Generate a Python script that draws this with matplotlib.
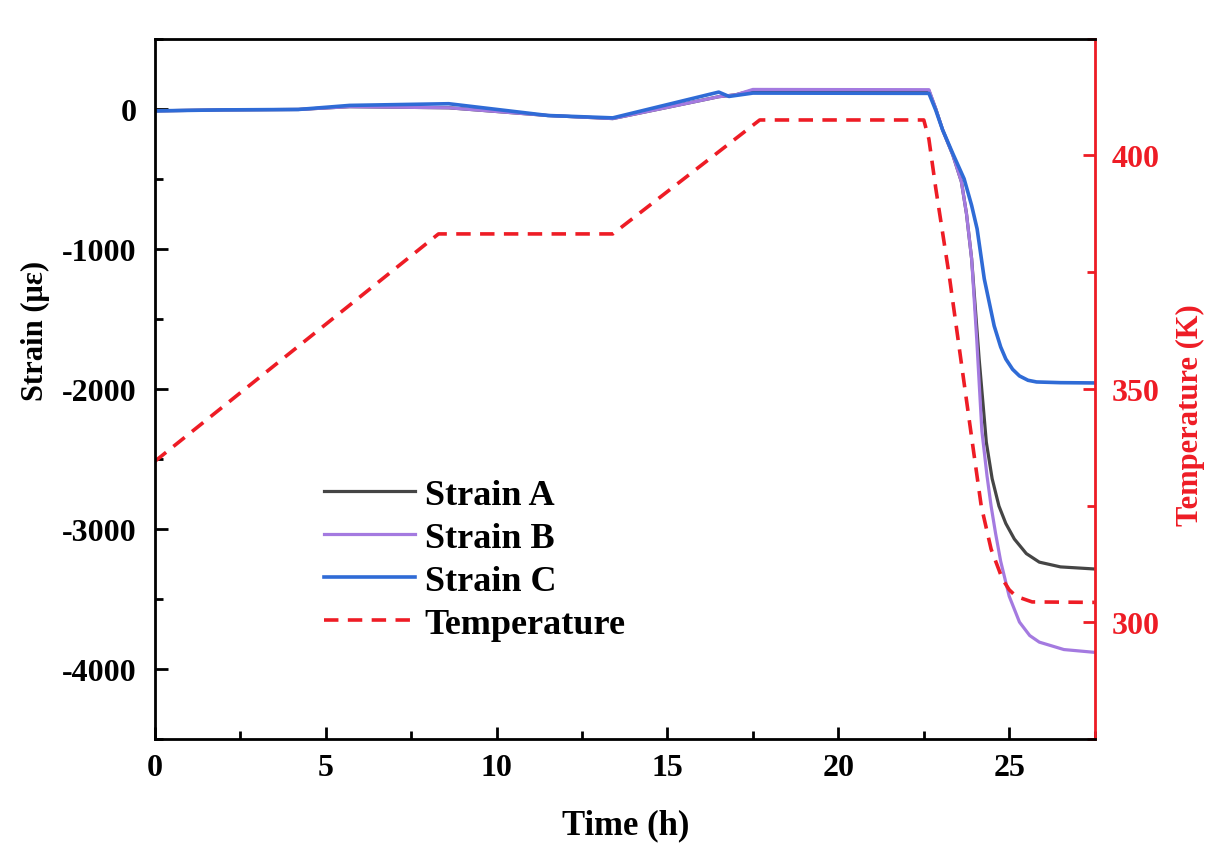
import matplotlib
matplotlib.use('Agg')
import matplotlib.pyplot as plt
from matplotlib.ticker import MultipleLocator

# temperature profile (K)
t_temp = [0, 8.3, 13.4, 17.7, 22.5, 22.65, 22.85, 23.25, 23.95, 24.18, 24.47, 24.8, 25.0, 25.2,
          25.67, 27.5]
temp = [334.5, 383.2, 383.2, 407.6, 407.6, 403.5, 393.0, 374.0, 337.0, 325.0, 315.7, 309.3,
        307.0, 305.6, 304.4, 304.3]

# strain gauges (micro strain)
t_c = [0, 2, 4.2, 5.7, 8.6, 11.5, 13.4, 15, 16.5, 16.8, 17.5, 22.65, 22.85, 23.05, 23.35, 23.68,
       23.9, 24.06, 24.27, 24.56, 24.75, 24.9, 25.1, 25.3, 25.55, 25.8, 26.5, 27.5]
strain_c = [-15, -8, -5, 24, 36, -48, -65, 30, 119, 88, 112, 110, -10, -150, -320, -500,
            -690, -857, -1214, -1550, -1700, -1786, -1860, -1907, -1938, -1950, -1955, -1957]

t_a = [0, 2, 4.2, 5.7, 8.6, 11.5, 13.4, 15, 16.5, 17.0, 17.5, 22.65, 22.85, 23.05, 23.35, 23.6,
       23.75, 23.9, 24.12, 24.33, 24.5, 24.7, 24.9, 25.15, 25.5, 25.88, 26.5, 27.5]
strain_a = [-15, -8, -5, 15, 7, -48, -70, 10, 86, 100, 131, 130, 0, -150, -330, -520,
            -750, -1071, -1786, -2380, -2640, -2836, -2960, -3071, -3175, -3236, -3270, -3285]

t_b = [0, 2, 4.2, 5.7, 8.6, 11.5, 13.4, 15, 16.5, 17.0, 17.5, 22.65, 22.85, 23.05, 23.35, 23.6,
       23.75, 23.9, 24.05, 24.2, 24.35, 24.47, 24.6, 24.75, 25.0, 25.3, 25.6, 25.88, 26.6, 27.5]
strain_b = [-15, -8, -5, 15, 7, -48, -70, 10, 86, 100, 138, 136, 0, -150, -330, -520,
            -750, -1071, -1650, -2300, -2620, -2836, -3030, -3230, -3480, -3664, -3760, -3807,
            -3860, -3880]

plt.rcParams['font.family'] = ['Liberation Serif', 'DejaVu Serif']
plt.rcParams['font.weight'] = 'bold'
plt.rcParams['axes.unicode_minus'] = False

fig = plt.figure(figsize=(12.19, 8.45), dpi=100)
ax = fig.add_axes([0.127, 0.124, 0.771, 0.829])
ax2 = ax.twinx()

la, = ax.plot(t_a, strain_a, color='#454545', lw=2.3, label='Strain A')
lb, = ax.plot(t_b, strain_b, color='#a47ae0', lw=2.3, label='Strain B')
lc, = ax.plot(t_c, strain_c, color='#2f6bd6', lw=2.6, label='Strain C')
lt, = ax2.plot(t_temp, temp, color='#ee1c25', lw=2.6, ls=(0, (4, 2.6)), label='Temperature')

ax.set_xlim(0, 27.5)
ax.set_ylim(-4500, 500)
ax2.set_ylim(275, 425)

ax.xaxis.set_major_locator(MultipleLocator(5))
ax.xaxis.set_minor_locator(MultipleLocator(2.5))
ax.yaxis.set_major_locator(MultipleLocator(1000))
ax.yaxis.set_minor_locator(MultipleLocator(500))
ax2.yaxis.set_major_locator(MultipleLocator(50))
ax2.yaxis.set_minor_locator(MultipleLocator(25))

ax.tick_params(which='both', direction='in', width=2, labelsize=23, pad=13)
ax.tick_params(which='major', length=9)
ax.tick_params(which='minor', length=6)
ax.tick_params(axis='x', pad=10)
ax2.tick_params(which='both', direction='in', width=2, labelsize=23, pad=12,
                color='#ee1c25', labelcolor='#ee1c25')
ax2.tick_params(which='major', length=9)
ax2.tick_params(which='minor', length=6)

for s in ['left', 'bottom', 'top']:
    ax2.spines[s].set_linewidth(2)
    ax2.spines[s].set_color('black')
ax2.spines['right'].set_linewidth(2)
ax2.spines['right'].set_color('#ee1c25')

ax.set_xlabel('Time (h)', fontsize=25, fontweight='bold')
ax.xaxis.set_label_coords(0.501, -0.098)
ax.set_ylabel('Strain (με)', fontsize=22, fontweight='bold')
ax.yaxis.set_label_coords(-0.112, 0.584)
ax2.set_ylabel('Temperature (K)', fontsize=22, fontweight='bold', color='#ee1c25')
ax2.yaxis.set_label_coords(1.086, 0.464)

ax2.legend(handles=[la, lb, lc, lt], loc='lower left', bbox_to_anchor=(0.165, 0.12),
           frameon=False, prop={'size': 26, 'weight': 'bold'}, handlelength=2.5,
           handletextpad=0.28, labelspacing=0.27, borderaxespad=0)

fig.savefig('out.png', dpi=100)
